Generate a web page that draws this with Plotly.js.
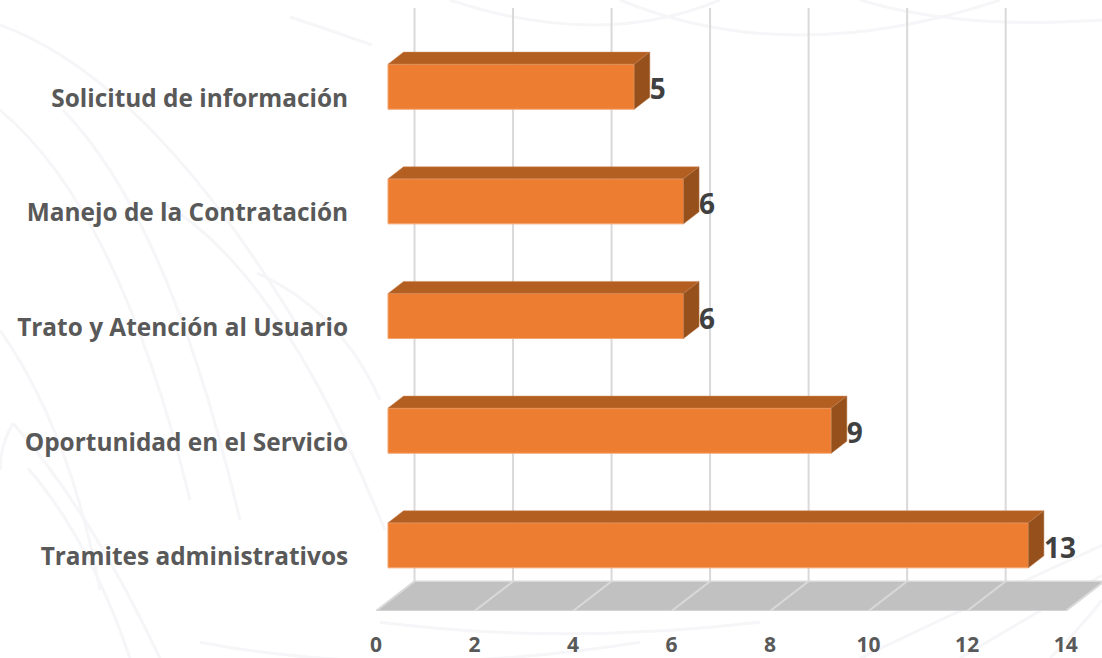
<!DOCTYPE html>
<html>
<head>
<meta charset="utf-8">
<script src="https://cdn.plot.ly/plotly-3.0.1.min.js"></script>
<style>html,body{margin:0;padding:0;background:#fff}#chart{width:1102px;height:658px}</style>
</head>
<body>
<div id="chart"></div>
<script>
const categories = ["Tramites administrativos", "Oportunidad en el Servicio", "Trato y Atención al Usuario", "Manejo de la Contratación", "Solicitud de información"];
const values = [13, 9, 6, 6, 5];
const xTicks = [0, 2, 4, 6, 8, 10, 12, 14];

const FONT = '"Open Sans", "Noto Sans", sans-serif';
const mL = 376, mB = 47.3, W = 1102, H = 658;
const xMax = 14.738, yMin = -0.573, yMax = 4.756;
const wallDx = 0.782, wallDy = 0.259, wallTop = 4.686;
const barBase = 0.2436, barDx = 0.315, barDy = 0.105, barW = 0.393;
const idx = categories.map((_, i) => i);

// faint watermark curves behind the chart: [start, control, end] in page pixels
const waves = [
  [[0, 25], [150, 80], [300, 330]], [[63, 110], [170, 220], [240, 520]], [[163, 203], [280, 270], [385, 530]],
  [[257, 273], [340, 310], [380, 400]], [[290, 17], [330, 30], [372, 45]], [[0, 110], [120, 210], [190, 500]],
  [[13, 423], [90, 510], [160, 658]], [[28, 468], [90, 540], [130, 658]], [[13, 423], [0, 445], [0, 470]],
  [[0, 330], [70, 430], [100, 590]], [[450, 0], [600, 50], [720, 0]], [[620, 0], [790, 70], [1000, 0]],
  [[860, 0], [960, 30], [1102, 20]], [[860, 658], [960, 610], [1102, 545]], [[960, 658], [1040, 610], [1102, 575]],
  [[1050, 658], [1080, 628], [1102, 600]], [[380, 622], [560, 645], [760, 622]], [[200, 642], [400, 680], [640, 642]]
];
const px = p => `${(p[0] - mL) / (W - mL)},${(H - mB - p[1]) / (H - mB)}`;

const shapes = waves.map(w => ({type: "path", xref: "paper", yref: "paper", layer: "below",
  path: `M${px(w[0])} Q${px(w[1])} ${px(w[2])}`, line: {color: "#F6F6F9", width: 3}}));

// floor
shapes.push({type: "path", xref: "x", yref: "y", layer: "below", line: {width: 0}, fillcolor: "#C1C1C1",
  path: `M0,${yMin} L14,${yMin} L${14 + wallDx},${yMin + wallDy} L${wallDx},${yMin + wallDy} Z`});
// grid on the floor and the back wall
xTicks.forEach(t => {
  shapes.push({type: "path", xref: "x", yref: "y", layer: "below", line: {color: "#D9D9D9", width: 2},
    path: `M${t},${yMin} L${t + wallDx},${yMin + wallDy} L${t + wallDx},${wallTop}`});
});
shapes.push({type: "line", xref: "x", yref: "y", layer: "below", line: {color: "#D9D9D9", width: 1.5},
  x0: 0, x1: 14, y0: yMin, y1: yMin});
shapes.push({type: "line", xref: "x", yref: "y", layer: "below", line: {color: "#D9D9D9", width: 1.5},
  x0: wallDx, x1: 14 + wallDx, y0: yMin + wallDy, y1: yMin + wallDy});

const traces = [{
  type: "bar", orientation: "h", y: idx, x: values, base: idx.map(() => barBase), width: barW,
  marker: {color: "#ED7D31", line: {color: "#F4A46F", width: 1}}, hoverinfo: "skip", showlegend: false
}];
values.forEach((v, i) => {
  const l = barBase, r = barBase + v, t = i + barW / 2, b = i - barW / 2;
  traces.push({type: "scatter", mode: "lines", fill: "toself", fillcolor: "#B45F22", line: {width: 0.5, color: "#D08A5A"},
    x: [l, r, r + barDx, l + barDx, l], y: [t, t, t + barDy, t + barDy, t], hoverinfo: "skip", showlegend: false});
  traces.push({type: "scatter", mode: "lines", fill: "toself", fillcolor: "#96501C", line: {width: 0.5, color: "#B67A4C"},
    x: [r, r + barDx, r + barDx, r, r], y: [t, t + barDy, b + barDy, b, t], hoverinfo: "skip", showlegend: false});
});
traces.push({type: "scatter", mode: "text", x: values.map(v => v + barBase + barDx), y: idx.map(i => i - 0.05),
  text: values.map(String), textposition: "middle right",
  textfont: {family: FONT, size: 28, color: "#404040", weight: 700}, hoverinfo: "skip", showlegend: false, cliponaxis: false});

const layout = {
  width: W, height: H, autosize: false,
  margin: {l: mL, r: 0, t: 0, b: mB, pad: 0},
  paper_bgcolor: "#fff", plot_bgcolor: "rgba(0,0,0,0)", showlegend: false, barmode: "overlay",
  xaxis: {range: [0, xMax], tickvals: xTicks, ticktext: xTicks.map(String), showgrid: false, zeroline: false, showline: false,
    ticks: "outside", ticklen: 15, tickcolor: "rgba(0,0,0,0)", tickangle: 0, fixedrange: true,
    tickfont: {family: FONT, size: 21, color: "#595959", weight: 700}},
  yaxis: {range: [yMin, yMax], tickvals: idx.map(i => i - 0.1), ticktext: categories, showgrid: false, zeroline: false, showline: false,
    ticks: "outside", ticklen: 22, tickcolor: "rgba(0,0,0,0)", fixedrange: true,
    tickfont: {family: FONT, size: 24.4, color: "#595959", weight: 700}},
  shapes: shapes
};

Plotly.newPlot("chart", traces, layout, {displayModeBar: false, staticPlot: true});
</script>
</body>
</html>
